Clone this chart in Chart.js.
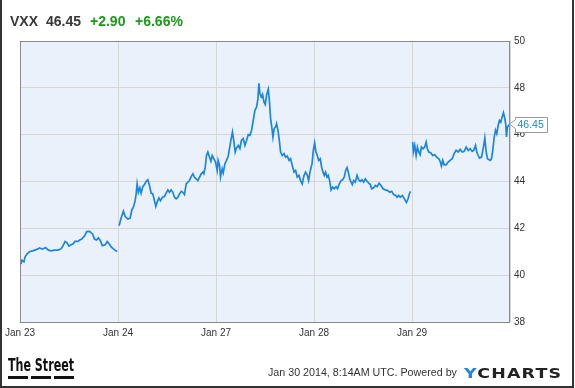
<!DOCTYPE html>
<html>
<head>
<meta charset="utf-8">
<script src="https://cdn.jsdelivr.net/npm/chart.js@4.4.1/dist/chart.umd.min.js"></script>
<style>
  html, body { margin: 0; padding: 0; background: #fff; }
  #wrap { position: relative; width: 575px; height: 388px; overflow: hidden; }
  #c { position: absolute; left: 0; top: 0; }
  .t { position: absolute; white-space: nowrap; font-family: "Liberation Sans", Arial, sans-serif; }
  #frame { position: absolute; left: 0; top: 0; width: 570px; height: 386px;
           border-left: 2px solid #333; border-right: 2px solid #333; border-bottom: 2px solid #333; pointer-events: none; }
  .dash { position: absolute; height: 3px; background: #111; top: 376px; width: 20px; }
</style>
</head>
<body>
<div id="wrap">
  <canvas id="c" width="575" height="388"></canvas>
  <div class="t" id="sym" style="left:10px;top:14px;font-size:14px;line-height:14px;font-weight:bold;color:#383838;"></div>
  <div class="t" id="px" style="left:46px;top:14px;font-size:14px;line-height:14px;font-weight:bold;color:#383838;"></div>
  <div class="t" id="chg" style="left:90px;top:14px;font-size:14px;line-height:14px;font-weight:bold;color:#179c17;"></div>
  <div class="t" id="pct" style="left:135px;top:14px;font-size:14px;line-height:14px;font-weight:bold;color:#179c17;"></div>
  <div class="t" id="street" style="left:8px;top:356px;font-family:'Liberation Sans Narrow','DejaVu Sans Condensed',sans-serif;font-weight:bold;font-size:18px;line-height:18px;color:#111;transform-origin:left top;">The Street</div>
  <div class="dash" style="left:8px;"></div>
  <div class="dash" style="left:31px;"></div>
  <div class="dash" style="left:54px;"></div>
  <div class="t" style="left:268px;top:367px;font-size:10.7px;line-height:11px;color:#333;">Jan 30 2014, 8:14AM UTC. Powered by</div>
  <div class="t" style="left:464px;top:366px;font-family:'DejaVu Sans',sans-serif;font-weight:bold;font-size:14.5px;line-height:14.5px;letter-spacing:1px;color:#222;transform:scaleX(1.2);transform-origin:left top;"><span style="color:#1a86e0;">Y</span>CHARTS</div>
  <div id="frame"></div>
</div>
<script>
// ---- data ----
const quote = { symbol: "VXX", price: "46.45", change: "+2.90", pct: "+6.66%" };
const dayLabels = ["Jan 23", "Jan 24", "Jan 27", "Jan 28", "Jan 29"];
const yMin = 38, yMax = 50, yStep = 2;

// [trading-day position, price]
const jan23 = [[0.01,40.47],[0.02,40.64],[0.04,40.57],[0.05,40.76],[0.07,40.90],[0.10,41.01],[0.13,41.04],[0.17,41.10],[0.20,41.16],[0.23,41.11],[0.26,41.18],[0.29,41.07],[0.32,41.04],[0.35,41.07],[0.39,41.07],[0.42,41.13],[0.44,41.26],[0.46,41.44],[0.48,41.38],[0.50,41.24],[0.52,41.30],[0.54,41.33],[0.56,41.44],[0.59,41.44],[0.61,41.50],[0.63,41.54],[0.66,41.68],[0.68,41.86],[0.71,41.87],[0.74,41.76],[0.76,41.54],[0.78,41.50],[0.80,41.59],[0.82,41.47],[0.84,41.26],[0.87,41.30],[0.89,41.44],[0.91,41.33],[0.93,41.21],[0.95,41.13],[0.97,41.07],[0.99,41.01]];

const jan24 = [[1.011,42.11],[1.032,42.44],[1.055,42.73],[1.073,42.50],[1.100,42.40],[1.124,42.44],[1.141,42.79],[1.157,42.90],[1.175,43.18],[1.185,43.47],[1.195,43.90],[1.208,43.54],[1.223,43.73],[1.236,43.50],[1.253,43.78],[1.270,43.87],[1.287,44.01],[1.304,44.07],[1.321,43.83],[1.338,43.50],[1.355,43.47],[1.372,43.18],[1.386,42.93],[1.399,43.11],[1.417,43.30],[1.433,43.18],[1.454,43.33],[1.474,43.36],[1.491,43.50],[1.509,43.64],[1.525,43.54],[1.542,43.64],[1.560,43.54],[1.576,43.33],[1.593,43.26],[1.611,43.33],[1.627,43.47],[1.645,43.58],[1.662,43.54],[1.678,43.44],[1.696,43.90],[1.713,43.97],[1.729,44.04],[1.747,44.21],[1.764,44.33],[1.780,44.18],[1.798,44.11],[1.815,44.04],[1.831,44.18],[1.849,44.33],[1.866,44.40],[1.876,44.33],[1.890,44.61],[1.903,45.11],[1.917,45.26],[1.934,45.04],[1.948,44.87],[1.961,45.11],[1.995,44.83]];

const jan27 = [[2.012,44.47],[2.022,44.90],[2.036,44.69],[2.046,44.19],[2.063,44.54],[2.074,44.37],[2.091,44.76],[2.107,44.90],[2.125,45.09],[2.138,45.43],[2.155,45.83],[2.168,46.11],[2.183,45.68],[2.196,45.26],[2.209,45.43],[2.227,45.54],[2.244,45.40],[2.260,45.76],[2.278,45.83],[2.295,45.54],[2.312,45.76],[2.329,46.00],[2.346,45.97],[2.363,46.19],[2.380,46.61],[2.397,47.04],[2.414,47.18],[2.428,47.54],[2.438,48.19],[2.448,47.76],[2.462,47.61],[2.475,47.72],[2.489,47.40],[2.503,47.29],[2.516,47.69],[2.533,47.94],[2.543,47.54],[2.557,46.69],[2.571,46.26],[2.581,45.90],[2.594,46.26],[2.608,46.33],[2.618,46.47],[2.632,46.19],[2.646,45.76],[2.659,45.26],[2.676,45.11],[2.694,45.19],[2.710,45.04],[2.727,45.09],[2.745,44.90],[2.761,44.97],[2.778,44.69],[2.796,44.40],[2.812,44.47],[2.829,44.19],[2.847,44.26],[2.863,44.04],[2.880,43.90],[2.898,44.26],[2.914,44.40],[2.932,44.26],[2.945,44.04],[2.959,44.40],[2.980,44.76]];

const jan28 = [[2.993,45.33],[3.006,45.64],[3.020,45.26],[3.034,45.11],[3.047,44.90],[3.064,44.97],[3.078,44.61],[3.092,44.40],[3.105,44.26],[3.118,44.40],[3.133,44.19],[3.146,44.26],[3.159,44.04],[3.174,43.64],[3.190,43.76],[3.207,43.69],[3.225,43.78],[3.241,43.69],[3.258,43.90],[3.276,44.04],[3.292,44.07],[3.309,44.19],[3.323,44.47],[3.337,44.59],[3.350,44.40],[3.364,44.11],[3.378,43.97],[3.391,43.87],[3.405,44.04],[3.422,43.97],[3.439,44.26],[3.456,44.07],[3.473,44.01],[3.490,44.07],[3.507,43.97],[3.524,44.11],[3.541,44.01],[3.558,43.93],[3.575,43.87],[3.588,43.69],[3.609,43.73],[3.626,43.83],[3.644,43.78],[3.664,43.93],[3.684,43.83],[3.705,43.69],[3.728,43.64],[3.752,43.61],[3.772,43.54],[3.793,43.58],[3.813,43.44],[3.834,43.40],[3.848,43.33],[3.864,43.40],[3.881,43.33],[3.902,43.40],[3.922,43.26],[3.943,43.11],[3.960,43.26],[3.973,43.47],[3.984,43.58]];

const jan29 = [[4.007,45.68],[4.014,45.26],[4.028,45.54],[4.042,45.11],[4.055,45.47],[4.069,45.26],[4.083,45.14],[4.096,45.47],[4.113,45.40],[4.130,45.47],[4.144,45.68],[4.157,45.40],[4.171,45.26],[4.191,45.23],[4.211,45.11],[4.232,45.14],[4.252,45.04],[4.273,44.97],[4.287,44.86],[4.300,44.66],[4.314,44.90],[4.328,44.71],[4.348,44.71],[4.369,44.83],[4.389,44.90],[4.410,44.97],[4.430,45.19],[4.450,45.33],[4.471,45.26],[4.491,45.37],[4.512,45.26],[4.532,45.29],[4.553,45.47],[4.573,45.33],[4.593,45.40],[4.614,45.29],[4.630,45.33],[4.648,45.54],[4.661,45.26],[4.675,45.11],[4.688,45.00],[4.709,45.04],[4.729,45.47],[4.743,45.86],[4.757,45.26],[4.770,44.97],[4.783,44.94],[4.798,44.90],[4.811,44.97],[4.824,45.33],[4.839,45.90],[4.852,46.19],[4.865,46.04],[4.880,46.40],[4.893,46.61],[4.906,46.54],[4.920,46.76],[4.933,46.94],[4.947,46.69],[4.957,46.43],[4.964,45.90],[4.974,46.33],[4.988,46.40],[4.998,46.45]];

// ---- header text ----
document.getElementById('sym').textContent = quote.symbol;
document.getElementById('px').textContent = quote.price;
document.getElementById('chg').textContent = quote.change;
document.getElementById('pct').textContent = quote.pct;

// fit "The Street" wordmark to its 66px width
(function () {
  const el = document.getElementById('street');
  const w = el.getBoundingClientRect().width;
  if (w > 0) el.style.transform = 'scaleX(' + (66 / w) + ')';
})();

const toPts = arr => arr.map(p => ({ x: p[0], y: p[1] }));
const gap = x => ({ x: x, y: null });
const series = [].concat(
  toPts(jan23), [gap(1.0)],
  toPts(jan24), toPts(jan27), toPts(jan28), [gap(3.995)],
  toPts(jan29)
);
const lastPoint = jan29[jan29.length - 1];

const tickFont = { family: "'Liberation Sans', Arial, sans-serif", size: 10 };

const plotBg = {
  id: 'plotBg',
  beforeDraw(chart) {
    const { ctx, chartArea: a } = chart;
    ctx.save();
    ctx.fillStyle = '#eaf1fb';
    ctx.fillRect(a.left, a.top, a.right - a.left, a.bottom - a.top);
    ctx.restore();
  },
  afterDraw(chart) {
    const { ctx, chartArea: a } = chart;
    ctx.save();
    ctx.strokeStyle = '#8a8a8a';
    ctx.lineWidth = 1;
    ctx.strokeRect(Math.round(a.left) + 0.5, Math.round(a.top) + 0.5,
                   Math.round(a.right - a.left) - 1, Math.round(a.bottom - a.top));
    // last price flag
    const ys = chart.scales.y;
    const cy = ys.getPixelForValue(lastPoint[1]);
    const tip = a.right - 0.5;
    const bx = a.right + 5.5, bw = 32, bh = 15;
    const top = Math.round(cy - bh / 2) + 0.5;
    ctx.beginPath();
    ctx.moveTo(bx, top);
    ctx.lineTo(bx + bw, top);
    ctx.lineTo(bx + bw, top + bh);
    ctx.lineTo(bx, top + bh);
    ctx.lineTo(bx, cy + 4.5);
    ctx.lineTo(tip, cy);
    ctx.lineTo(bx, cy - 4.5);
    ctx.closePath();
    ctx.fillStyle = '#ffffff';
    ctx.fill();
    ctx.strokeStyle = '#999';
    ctx.stroke();
    ctx.fillStyle = '#1a86e0';
    ctx.font = "10.5px 'Liberation Sans', Arial, sans-serif";
    ctx.textBaseline = 'middle';
    ctx.textAlign = 'left';
    ctx.fillText(lastPoint[1].toFixed(2), bx + 2, cy + 0.5);
    ctx.restore();
  }
};

new Chart(document.getElementById('c'), {
  type: 'line',
  data: {
    datasets: [{
      data: series,
      borderColor: '#1a86e0',
      borderWidth: 1.7,
      pointRadius: 0,
      tension: 0,
      spanGaps: false,
      fill: false
    }]
  },
  options: {
    responsive: false,
    animation: false,
    devicePixelRatio: 1,
    layout: { padding: { left: 20, top: 41, right: 0, bottom: 0 } },
    plugins: { legend: { display: false }, tooltip: { enabled: false } },
    scales: {
      x: {
        type: 'linear', min: 0, max: 5,
        ticks: {
          stepSize: 1, autoSkip: false, maxRotation: 0, padding: 5,
          color: '#333', font: tickFont,
          callback: v => (dayLabels[v] !== undefined ? dayLabels[v] : '')
        },
        grid: { color: '#d6d6d6', drawTicks: false, lineWidth: 1 },
        border: { display: false },
        afterFit(s) { s.height = 66; }
      },
      y: {
        position: 'right', min: yMin, max: yMax,
        ticks: { stepSize: yStep, padding: 4, color: '#333', font: tickFont },
        grid: { color: '#d6d6d6', drawTicks: false, lineWidth: 1 },
        border: { display: false },
        afterFit(s) { s.width = 65; }
      }
    }
  },
  plugins: [plotBg]
});
</script>
</body>
</html>
